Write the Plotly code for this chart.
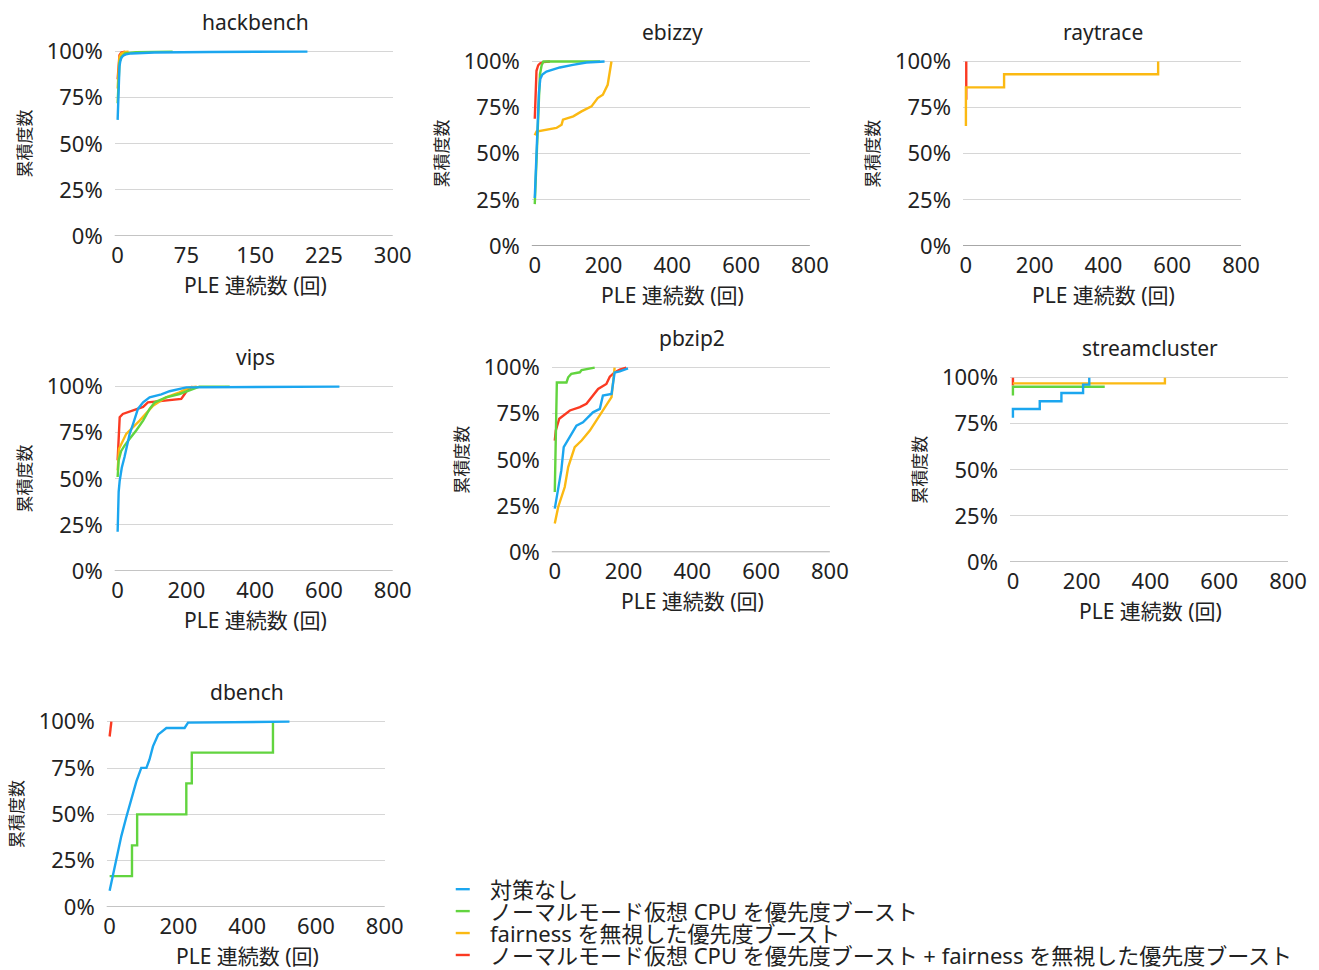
import plotly.graph_objects as go

# ---------------------------------------------------------------- series
SERIES = [
    "対策なし",
    "ノーマルモード仮想 CPU を優先度ブースト",
    "fairness を無視した優先度ブースト",
    "ノーマルモード仮想 CPU を優先度ブースト + fairness を無視した優先度ブースト",
]
COLORS = ["#1ba6ef", "#62d43f", "#fbb912", "#fb3a22"]

# ---------------------------------------------------------------- hackbench
hackbench_none_x = [0, 0.5, 1, 2, 3, 4, 6, 9, 15, 40, 100, 207]
hackbench_none_y = [0.63, 0.75, 0.85, 0.92, 0.95, 0.965, 0.978, 0.985, 0.99, 0.995, 0.998, 1.0]
hackbench_vcpu_x = [0, 1, 2, 4, 8, 20, 60]
hackbench_vcpu_y = [0.72, 0.88, 0.94, 0.97, 0.99, 0.997, 1.0]
hackbench_fair_x = [0, 1, 2, 4, 8, 12]
hackbench_fair_y = [0.80, 0.93, 0.97, 0.99, 0.998, 1.0]
hackbench_both_x = [0, 1, 2, 4, 8]
hackbench_both_y = [0.85, 0.95, 0.98, 0.995, 1.0]

# ---------------------------------------------------------------- ebizzy
ebizzy_none_x = [0, 4, 8, 12, 16, 22, 34, 73, 111, 150, 203]
ebizzy_none_y = [0.26, 0.48, 0.68, 0.83, 0.905, 0.93, 0.946, 0.968, 0.982, 0.995, 1.0]
ebizzy_vcpu_x = [0, 5, 10, 15, 20, 25, 190]
ebizzy_vcpu_y = [0.227, 0.45, 0.70, 0.93, 0.98, 1.0, 1.0]
ebizzy_fair_x = [0, 5, 63, 78, 82, 112, 136, 165, 183, 198, 212, 218, 223]
ebizzy_fair_y = [0.60, 0.62, 0.64, 0.658, 0.685, 0.703, 0.73, 0.757, 0.802, 0.82, 0.874, 0.946, 1.0]
ebizzy_both_x = [0, 2, 5, 10, 15, 25, 44]
ebizzy_both_y = [0.69, 0.85, 0.95, 0.98, 0.99, 0.997, 1.0]

# ---------------------------------------------------------------- raytrace
raytrace_fair_x = [0, 0, 111, 559]
raytrace_fair_y = [0.65, 0.86, 0.931, 1.0]
raytrace_both_x = [0, 1]
raytrace_both_y = [0.80, 1.0]

# ---------------------------------------------------------------- vips
vips_none_x = [0, 1, 3, 6, 12, 20, 35, 45, 59, 74, 93, 127, 151, 200, 645]
vips_none_y = [0.213, 0.33, 0.43, 0.49, 0.56, 0.618, 0.744, 0.798, 0.879, 0.915, 0.942, 0.958, 0.975, 0.996, 1.0]
vips_vcpu_x = [0, 3, 10, 20, 35, 54, 74, 93, 108, 141, 180, 219, 238, 326]
vips_vcpu_y = [0.51, 0.60, 0.65, 0.68, 0.717, 0.762, 0.816, 0.879, 0.915, 0.942, 0.96, 0.987, 1.0, 1.0]
vips_fair_x = [0, 4, 25, 64, 103, 141, 180, 209, 230]
vips_fair_y = [0.546, 0.663, 0.744, 0.816, 0.897, 0.942, 0.969, 0.996, 1.0]
vips_both_x = [0, 3, 6, 15, 45, 74, 88, 141, 185, 195, 205, 218]
vips_both_y = [0.60, 0.75, 0.834, 0.852, 0.87, 0.89, 0.915, 0.924, 0.933, 0.96, 0.987, 1.0]

# ---------------------------------------------------------------- pbzip2
pbzip2_none_x = [0, 10, 19, 26, 44, 63, 82, 111, 131, 140, 165, 174, 189, 213]
pbzip2_none_y = [0.236, 0.335, 0.443, 0.569, 0.623, 0.686, 0.704, 0.758, 0.777, 0.849, 0.858, 0.974, 0.98, 0.996]
pbzip2_vcpu_x = [0, 3, 6, 34, 39, 48, 73, 78, 111, 116]
pbzip2_vcpu_y = [0.326, 0.60, 0.92, 0.92, 0.948, 0.966, 0.975, 0.987, 0.995, 1.0]
pbzip2_fair_x = [0, 10, 29, 39, 58, 78, 102, 121, 145, 165, 174]
pbzip2_fair_y = [0.155, 0.245, 0.353, 0.461, 0.569, 0.605, 0.659, 0.714, 0.786, 0.84, 1.0]
pbzip2_both_x = [0, 3, 13, 24, 44, 73, 92, 107, 126, 150, 160, 174, 189, 208]
pbzip2_both_y = [0.605, 0.66, 0.723, 0.74, 0.768, 0.786, 0.804, 0.84, 0.885, 0.912, 0.951, 0.974, 0.99, 1.0]

# ---------------------------------------------------------------- streamcluster
streamcluster_none_x = [0, 0, 78, 141, 204, 222]
streamcluster_none_y = [0.782, 0.83, 0.872, 0.917, 0.962, 1.0]
streamcluster_vcpu_x = [0, 0, 267]
streamcluster_vcpu_y = [0.903, 0.951, 0.951]
streamcluster_fair_x = [0, 442]
streamcluster_fair_y = [0.969, 1.0]
streamcluster_both_x = [0, 0]
streamcluster_both_y = [0.957, 1.0]

# ---------------------------------------------------------------- dbench
dbench_none_x = [0, 15, 34, 48, 63, 78, 92, 107, 116, 126, 141, 150, 165, 218, 228, 523]
dbench_none_y = [0.088, 0.222, 0.383, 0.482, 0.581, 0.679, 0.751, 0.751, 0.796, 0.867, 0.93, 0.945, 0.966, 0.966, 0.995, 1.0]
dbench_vcpu_x = [0, 65, 80, 223, 239, 475]
dbench_vcpu_y = [0.167, 0.333, 0.5, 0.667, 0.833, 1.0]
dbench_both_x = [0, 5]
dbench_both_y = [0.92, 1.0]

Y_TICKS = [0, 0.25, 0.5, 0.75, 1.0]
Y_TICK_TEXT = ["0%", "25%", "50%", "75%", "100%"]
X_TICKS_SHORT = [0, 75, 150, 225, 300]
X_TICKS_LONG = [0, 200, 400, 600, 800]
X_TITLE = "PLE 連続数 (回)"
Y_TITLE = "累積度数"

# benchmark name, x range max, x ticks, series (index, xs, ys), line shape
PANELS = [
    ("hackbench", 300, X_TICKS_SHORT, [
        (3, hackbench_both_x, hackbench_both_y), (2, hackbench_fair_x, hackbench_fair_y),
        (1, hackbench_vcpu_x, hackbench_vcpu_y), (0, hackbench_none_x, hackbench_none_y)], "linear"),
    ("ebizzy", 800, X_TICKS_LONG, [
        (3, ebizzy_both_x, ebizzy_both_y), (2, ebizzy_fair_x, ebizzy_fair_y),
        (1, ebizzy_vcpu_x, ebizzy_vcpu_y), (0, ebizzy_none_x, ebizzy_none_y)], "linear"),
    ("raytrace", 800, X_TICKS_LONG, [
        (3, raytrace_both_x, raytrace_both_y), (2, raytrace_fair_x, raytrace_fair_y)], "hv"),
    ("vips", 800, X_TICKS_LONG, [
        (3, vips_both_x, vips_both_y), (2, vips_fair_x, vips_fair_y),
        (1, vips_vcpu_x, vips_vcpu_y), (0, vips_none_x, vips_none_y)], "linear"),
    ("pbzip2", 800, X_TICKS_LONG, [
        (3, pbzip2_both_x, pbzip2_both_y), (2, pbzip2_fair_x, pbzip2_fair_y),
        (1, pbzip2_vcpu_x, pbzip2_vcpu_y), (0, pbzip2_none_x, pbzip2_none_y)], "linear"),
    ("streamcluster", 800, X_TICKS_LONG, [
        (3, streamcluster_both_x, streamcluster_both_y), (2, streamcluster_fair_x, streamcluster_fair_y),
        (1, streamcluster_vcpu_x, streamcluster_vcpu_y), (0, streamcluster_none_x, streamcluster_none_y)], "hv"),
    ("dbench", 800, X_TICKS_LONG, [
        (3, dbench_both_x, dbench_both_y),
        (1, dbench_vcpu_x, dbench_vcpu_y), (0, dbench_none_x, dbench_none_y)], "mixed"),
]

# plot-area boxes on screen: left, right, top (100%), bottom (0%)
BOXES = [
    (118, 393, 50, 235),
    (535, 810, 60, 245),
    (966, 1241, 60, 245),
    (118, 393, 386, 571),
    (555, 830, 367, 552),
    (1013, 1288, 377, 562),
    (110, 385, 722, 908),
]

W, H = 1319, 970
FONT = "Noto Sans, Noto Sans CJK JP, sans-serif"
TEXT = "#222222"
GRID = "#d6d6d6"
AXIS = "#8a8a8a"

# the page is shown slightly reduced and offset; map screen pixels to figure pixels
SX, OX = 0.983, 3.4
SY, OY = 0.976, 10.3


def fx(p):
    return (p - OX) / SX


def fy(p):
    return (p - OY) / SY


def px(p):
    return fx(p) / W


def py(p):
    return 1 - fy(p) / H


fig = go.Figure()
annotations = []
PAD = 3.0  # figure pixels of slack so lines at 0 and 100% are not clipped

for i, ((name, xmax, xticks, series, shape), (l, r, t, b)) in enumerate(zip(PANELS, BOXES), start=1):
    L, R, T, B = fx(l), fx(r), fy(t), fy(b)
    sx = (R - L) / xmax
    sy = (B - T) / 1.0
    xpad = PAD / sx
    ypad = (PAD + 1) / sy
    xa = "xaxis" if i == 1 else f"xaxis{i}"
    ya = "yaxis" if i == 1 else f"yaxis{i}"
    xr = "x" if i == 1 else f"x{i}"
    yr = "y" if i == 1 else f"y{i}"
    fig.layout[xa] = dict(
        domain=[(L - PAD) / W, R / W], range=[-xpad, xmax], anchor=yr,
        tickvals=xticks, ticktext=[str(v) for v in xticks],
        showgrid=False, zeroline=False, showline=False, ticks="",
        ticklabelstandoff=4, tickfont=dict(family=FONT, size=22, color=TEXT),
        fixedrange=True,
    )
    fig.layout[ya] = dict(
        domain=[1 - B / H, 1 - (T - PAD - 1) / H], range=[0, 1.0 + ypad], anchor=xr,
        tickvals=Y_TICKS, ticktext=Y_TICK_TEXT,
        showgrid=True, gridcolor=GRID, gridwidth=1, zeroline=False,
        showline=False, ticks="", ticklabelstandoff=11,
        tickfont=dict(family=FONT, size=22, color=TEXT), fixedrange=True,
    )
    # darker baseline along 0%
    fig.add_shape(type="line", xref=f"{xr} domain", yref=yr, x0=0, x1=1, y0=0, y1=0,
                  line=dict(color=AXIS, width=1.3), layer="below")
    for idx, xs, ys in series:
        if shape == "mixed":
            s = "hv" if idx == 1 else "linear"
        else:
            s = shape
        fig.add_trace(go.Scatter(
            x=xs, y=ys, mode="lines", name=SERIES[idx], showlegend=False,
            line=dict(color=COLORS[idx], width=2.4, shape=s),
            xaxis=xr, yaxis=yr, hoverinfo="skip",
        ))
    cx = (l + r) / 2
    annotations.append(dict(text=name, x=px(cx), y=py(t - 30), xref="paper", yref="paper",
                            showarrow=False, xanchor="center", yanchor="middle",
                            font=dict(family=FONT, size=21, color=TEXT)))
    annotations.append(dict(text=X_TITLE, x=px(cx), y=py(b + 49), xref="paper", yref="paper",
                            showarrow=False, xanchor="center", yanchor="middle",
                            font=dict(family=FONT, size=21, color=TEXT)))
    annotations.append(dict(text=Y_TITLE, x=px(l - 93), y=py((t + b) / 2), xref="paper", yref="paper",
                            showarrow=False, xanchor="center", yanchor="middle", textangle=-90,
                            font=dict(family=FONT, size=17, color=TEXT)))

# legend block in the lower right
LEG_X, LEG_Y0, LEG_STEP = 488, 890, 22
for k, (label, color) in enumerate(zip(SERIES, COLORS)):
    yk = LEG_Y0 + k * LEG_STEP
    fig.add_shape(type="line", xref="paper", yref="paper",
                  x0=px(456), x1=px(470), y0=py(yk), y1=py(yk),
                  line=dict(color=color, width=2.4))
    annotations.append(dict(text=label, x=px(LEG_X), y=py(yk), xref="paper", yref="paper",
                            showarrow=False, xanchor="left", yanchor="middle",
                            font=dict(family=FONT, size=22, color=TEXT)))

fig.update_layout(
    width=W, height=H,
    margin=dict(l=0, r=0, t=0, b=0),
    paper_bgcolor="white", plot_bgcolor="white",
    annotations=annotations,
    showlegend=False,
)

fig.write_html("out.html", config={"displayModeBar": False})
